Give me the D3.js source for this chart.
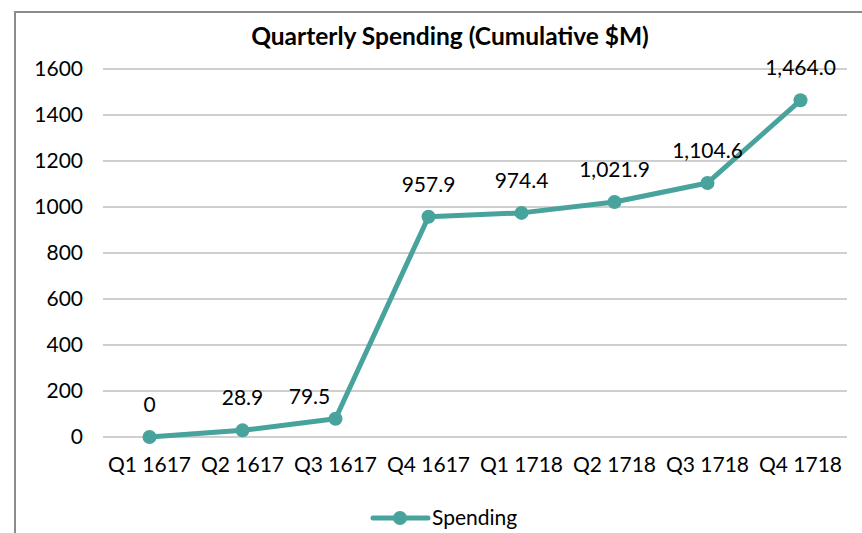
<!DOCTYPE html>
<html>
<head>
<meta charset="utf-8">
<script src="https://cdn.jsdelivr.net/npm/d3@7"></script>
<style>
  body { margin: 0; background: #fff; }
  text { font-family: Lato, "Open Sans", sans-serif; }
</style>
</head>
<body>
<script>
var quarters = ["Q1 1617","Q2 1617","Q3 1617","Q4 1617","Q1 1718","Q2 1718","Q3 1718","Q4 1718"];
var spending = [0, 28.9, 79.5, 957.9, 974.4, 1021.9, 1104.6, 1464.0];
var labels = ["0","28.9","79.5","957.9","974.4","1,021.9","1,104.6","1,464.0"];
var yTicks = [0,200,400,600,800,1000,1200,1400,1600];

var w = 862, h = 533;
var color = "#48a39c";
var fs = 21;

var svg = d3.select("body").append("svg").attr("width", w).attr("height", h);

// chart frame (cut off at right and bottom like the screenshot)
svg.append("path")
  .attr("d", "M15," + h + " L15,12 L" + w + ",12")
  .attr("fill", "none").attr("stroke", "#8c8c8c").attr("stroke-width", 2);

svg.append("text")
  .attr("x", 450).attr("y", 45)
  .attr("text-anchor", "middle")
  .attr("font-size", 24.5).attr("font-weight", "bold")
  .text("Quarterly Spending (Cumulative $M)");

var x = d3.scaleBand().domain(quarters).range([103, 847]);
var y = d3.scaleLinear().domain([0, 1600]).range([437, 69]);

// gridlines
svg.append("g").selectAll("line")
  .data(yTicks).enter().append("line")
  .attr("x1", 103).attr("x2", 847)
  .attr("y1", function(d){ return y(d); })
  .attr("y2", function(d){ return y(d); })
  .attr("stroke", "#bfbfbf").attr("stroke-width", 1.3);

var yAxis = svg.append("g").attr("transform", "translate(103,0)")
  .call(d3.axisLeft(y).tickValues(yTicks).tickFormat(d3.format("d")).tickSize(0).tickPadding(20));
yAxis.select(".domain").remove();
yAxis.attr("font-family", null).attr("font-size", null);
yAxis.selectAll("text").attr("font-size", fs).attr("fill", "#000");

var xAxis = svg.append("g").attr("transform", "translate(0,437)")
  .call(d3.axisBottom(x).tickSize(0).tickPadding(20));
xAxis.select(".domain").remove();
xAxis.attr("font-family", null).attr("font-size", null);
xAxis.selectAll("text").attr("font-size", fs).attr("fill", "#000");

var cx = function(d, i){ return x(quarters[i]) + x.bandwidth() / 2; };

var line = d3.line()
  .x(function(d, i){ return cx(d, i); })
  .y(function(d){ return y(d); });

svg.append("path").datum(spending)
  .attr("d", line)
  .attr("fill", "none").attr("stroke", color)
  .attr("stroke-width", 5).attr("stroke-linejoin", "round");

svg.append("g").selectAll("circle")
  .data(spending).enter().append("circle")
  .attr("cx", cx)
  .attr("cy", function(d){ return y(d); })
  .attr("r", 7).attr("fill", color);

// the label at the steep jump sits to the left of its point, as in the original
svg.append("g").selectAll("text")
  .data(spending).enter().append("text")
  .attr("x", function(d, i){ return cx(d, i) + (i === 2 ? -26 : 0); })
  .attr("y", function(d, i){ return y(d) - (i === 2 ? 15 : 25); })
  .attr("text-anchor", "middle")
  .attr("font-size", fs)
  .text(function(d, i){ return labels[i]; });

// legend
var lg = svg.append("g");
lg.append("line").attr("x1", 373).attr("x2", 428).attr("y1", 518).attr("y2", 518)
  .attr("stroke", color).attr("stroke-width", 5).attr("stroke-linecap", "round");
lg.append("circle").attr("cx", 400).attr("cy", 518).attr("r", 7).attr("fill", color);
lg.append("text").attr("x", 432).attr("y", 525).attr("font-size", fs).text("Spending");
</script>
</body>
</html>
